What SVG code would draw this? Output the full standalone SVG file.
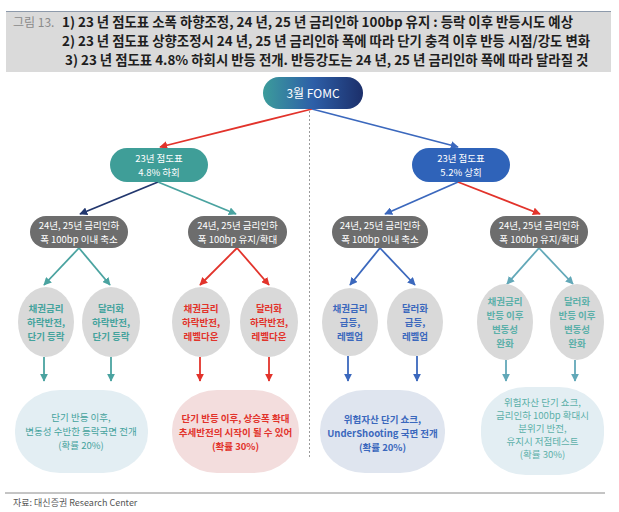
<svg xmlns="http://www.w3.org/2000/svg" width="619" height="512" viewBox="0 0 619 512">
<style>
text{font-family:"Noto Sans CJK KR","Noto Sans",sans-serif;}
.hd{font-size:13.4px;font-weight:bold;fill:#1e1e1e;}
.nw{font-size:9.5px;fill:#fff;text-anchor:middle;}
.et{font-size:9.5px;font-weight:bold;text-anchor:middle;}
.bt{font-size:9.5px;text-anchor:middle;}
.ln{fill:none;stroke-width:1.8;}
.r{stroke:#e2332b;} .b{stroke:#3b68bd;} .n{stroke:#22376e;} .t{stroke:#4aa3a0;} .lt{stroke:#62a8b8;}
</style>
<defs>
<linearGradient id="gTop" x1="0" y1="0" x2="1" y2="0">
<stop offset="0" stop-color="#3c9c9b"/>
<stop offset="0.5" stop-color="#2d5fa8"/>
<stop offset="1" stop-color="#1c2f6a"/>
</linearGradient>
<marker id="mr" viewBox="0 0 10 10" refX="9" refY="5" markerWidth="8" markerHeight="8" markerUnits="userSpaceOnUse" orient="auto"><path d="M0,0 L10,5 L0,10 z" fill="#e2332b"/></marker>
<marker id="mb" viewBox="0 0 10 10" refX="9" refY="5" markerWidth="8" markerHeight="8" markerUnits="userSpaceOnUse" orient="auto"><path d="M0,0 L10,5 L0,10 z" fill="#3b68bd"/></marker>
<marker id="mn" viewBox="0 0 10 10" refX="9" refY="5" markerWidth="8" markerHeight="8" markerUnits="userSpaceOnUse" orient="auto"><path d="M0,0 L10,5 L0,10 z" fill="#22376e"/></marker>
<marker id="mt" viewBox="0 0 10 10" refX="9" refY="5" markerWidth="8" markerHeight="8" markerUnits="userSpaceOnUse" orient="auto"><path d="M0,0 L10,5 L0,10 z" fill="#4aa3a0"/></marker>
<marker id="mlt" viewBox="0 0 10 10" refX="9" refY="5" markerWidth="8" markerHeight="8" markerUnits="userSpaceOnUse" orient="auto"><path d="M0,0 L10,5 L0,10 z" fill="#62a8b8"/></marker>
</defs>
<rect width="619" height="512" fill="#fff"/>
<g id="header">
<rect x="6" y="11" width="605" height="61" fill="#dadada"/>
<line x1="6" y1="11.5" x2="611" y2="11.5" stroke="#8d9aab" stroke-width="1"/>
<text x="13" y="27" font-size="12" fill="#8a8a8a">그림 13.</text>
<text class="hd" x="62" y="27">1) 23 년 점도표 소폭 하향조정, 24 년, 25 년 금리인하 100bp 유지 : 등락 이후 반등시도 예상</text>
<text class="hd" x="62" y="46">2) 23 년 점도표 상향조정시 24 년, 25 년 금리인하 폭에 따라 단기 충격 이후 반등 시점/강도 변화</text>
<text class="hd" x="65" y="65">3) 23 년 점도표 4.8% 하회시 반등 전개. 반등강도는 24 년, 25 년 금리인하 폭에 따라 달라질 것</text>
</g>
<line x1="309.5" y1="111" x2="309.5" y2="458" stroke="#9a9a9a" stroke-width="1" stroke-dasharray="2,2"/>
<g id="connectors">
<path class="ln r" d="M312,109 L160,147" marker-end="url(#mr)"/>
<path class="ln b" d="M312,109 L458,147" marker-end="url(#mb)"/>
<path class="ln n" d="M158,182 L80,214" marker-end="url(#mn)"/>
<path class="ln t" d="M158,182 L236,214" marker-end="url(#mt)"/>
<path class="ln b" d="M458,182 L385,214" marker-end="url(#mb)"/>
<path class="ln r" d="M458,182 L540,214" marker-end="url(#mr)"/>
<path class="ln t" d="M79,248 L44,285" marker-end="url(#mt)"/>
<path class="ln t" d="M79,248 L110,285" marker-end="url(#mt)"/>
<path class="ln r" d="M237,248 L200,285" marker-end="url(#mr)"/>
<path class="ln r" d="M237,248 L269,285" marker-end="url(#mr)"/>
<path class="ln b" d="M380,248 L350,285" marker-end="url(#mb)"/>
<path class="ln b" d="M380,248 L415,285" marker-end="url(#mb)"/>
<path class="ln lt" d="M539,248 L507,284" marker-end="url(#mlt)"/>
<path class="ln lt" d="M539,248 L573,284" marker-end="url(#mlt)"/>
<path class="ln t" d="M44,357 L44,381" marker-end="url(#mt)"/>
<path class="ln t" d="M111,357 L111,381" marker-end="url(#mt)"/>
<path class="ln r" d="M200,357 L200,381" marker-end="url(#mr)"/>
<path class="ln r" d="M269,357 L269,381" marker-end="url(#mr)"/>
<path class="ln b" d="M348,356 L348,381" marker-end="url(#mb)"/>
<path class="ln b" d="M417,356 L417,381" marker-end="url(#mb)"/>
<path class="ln lt" d="M506,360 L506,381" marker-end="url(#mlt)"/>
<path class="ln lt" d="M575,360 L575,381" marker-end="url(#mlt)"/>
</g>
<g id="n_fomc">
<rect x="263" y="77" width="100" height="32" rx="16" fill="url(#gTop)"/>
<text x="313" y="97.5" font-size="12" fill="#fff" text-anchor="middle">3월 FOMC</text>
</g>
<g id="n_below">
<rect x="110" y="148" width="98" height="34" rx="17" fill="#3f9e98"/>
<text class="nw" x="159" y="162">23년 점도표</text>
<text class="nw" x="159" y="176">4.8% 하회</text>
</g>
<g id="n_above">
<rect x="412" y="148" width="98" height="34" rx="17" fill="#2f63b9"/>
<text class="nw" x="461" y="162">23년 점도표</text>
<text class="nw" x="461" y="176">5.2% 상회</text>
</g>
<g id="n_ll">
<rect x="30" y="216" width="98" height="32" rx="16" fill="#6d6d6d"/>
<text class="nw" x="79" y="229">24년, 25년 금리인하</text>
<text class="nw" x="79" y="243">폭 100bp 이내 축소</text>
</g>
<g id="n_lr">
<rect x="188" y="216" width="99" height="32" rx="16" fill="#6d6d6d"/>
<text class="nw" x="237.5" y="229">24년, 25년 금리인하</text>
<text class="nw" x="237.5" y="243">폭 100bp 유지/확대</text>
</g>
<g id="n_rl">
<rect x="332" y="216" width="96" height="32" rx="16" fill="#6d6d6d"/>
<text class="nw" x="380" y="229">24년, 25년 금리인하</text>
<text class="nw" x="380" y="243">폭 100bp 이내 축소</text>
</g>
<g id="n_rr">
<rect x="490" y="216" width="98" height="32" rx="16" fill="#6d6d6d"/>
<text class="nw" x="539" y="229">24년, 25년 금리인하</text>
<text class="nw" x="539" y="243">폭 100bp 유지/확대</text>
</g>
<g id="e1">
<ellipse cx="46" cy="322" rx="28" ry="35" fill="#d9d9d9"/>
<text class="et" x="46" y="312" fill="#45a39d">채권금리</text>
<text class="et" x="46" y="326" fill="#45a39d">하락반전,</text>
<text class="et" x="46" y="340" fill="#45a39d">단기 등락</text>
</g>
<g id="e2">
<ellipse cx="111" cy="322" rx="29" ry="35" fill="#d9d9d9"/>
<text class="et" x="111" y="312" fill="#45a39d">달러화</text>
<text class="et" x="111" y="326" fill="#45a39d">하락반전,</text>
<text class="et" x="111" y="340" fill="#45a39d">단기 등락</text>
</g>
<g id="e3">
<ellipse cx="201" cy="322" rx="29" ry="35" fill="#d9d9d9"/>
<text class="et" x="201" y="312" fill="#e2332b">채권금리</text>
<text class="et" x="201" y="326" fill="#e2332b">하락반전,</text>
<text class="et" x="201" y="340" fill="#e2332b">레벨다운</text>
</g>
<g id="e4">
<ellipse cx="269" cy="322" rx="29" ry="35" fill="#d9d9d9"/>
<text class="et" x="269" y="312" fill="#e2332b">달러화</text>
<text class="et" x="269" y="326" fill="#e2332b">하락반전,</text>
<text class="et" x="269" y="340" fill="#e2332b">레벨다운</text>
</g>
<g id="e5">
<ellipse cx="350" cy="322" rx="28" ry="34" fill="#d9d9d9"/>
<text class="et" x="350" y="312" fill="#3b68bd">채권금리</text>
<text class="et" x="350" y="326" fill="#3b68bd">급등,</text>
<text class="et" x="350" y="340" fill="#3b68bd">레벨업</text>
</g>
<g id="e6">
<ellipse cx="415" cy="322" rx="28" ry="34" fill="#d9d9d9"/>
<text class="et" x="415" y="312" fill="#3b68bd">달러화</text>
<text class="et" x="415" y="326" fill="#3b68bd">급등,</text>
<text class="et" x="415" y="340" fill="#3b68bd">레벨업</text>
</g>
<g id="e7">
<ellipse cx="505" cy="322" rx="28" ry="38" fill="#d9d9d9"/>
<text class="et" x="505" y="305" fill="#5cb0a9">채권금리</text>
<text class="et" x="505" y="319" fill="#5cb0a9">반등 이후</text>
<text class="et" x="505" y="333" fill="#5cb0a9">변동성</text>
<text class="et" x="505" y="347" fill="#5cb0a9">완화</text>
</g>
<g id="e8">
<ellipse cx="577" cy="322" rx="27" ry="38" fill="#d9d9d9"/>
<text class="et" x="577" y="305" fill="#5cb0a9">달러화</text>
<text class="et" x="577" y="319" fill="#5cb0a9">반등 이후</text>
<text class="et" x="577" y="333" fill="#5cb0a9">변동성</text>
<text class="et" x="577" y="347" fill="#5cb0a9">완화</text>
</g>
<g id="b1">
<rect x="15" y="390" width="133" height="83" rx="45" ry="40" fill="#e3eef3"/>
<text class="bt" x="81" y="421" fill="#45a39d">단기 반등 이후,</text>
<text class="bt" x="81" y="435" fill="#45a39d">변동성 수반한 등락국면 전개</text>
<text class="bt" x="81" y="449" fill="#45a39d">(확률 20%)</text>
</g>
<g id="b2">
<rect x="172" y="390" width="127" height="83" rx="45" ry="40" fill="#f3dddd"/>
<text class="bt" x="235.5" y="422" fill="#e2332b" font-weight="bold">단기 반등 이후, 상승폭 확대</text>
<text class="bt" x="235.5" y="436" fill="#e2332b" font-weight="bold">추세반전의 시작이 될 수 있어</text>
<text class="bt" x="235.5" y="450" fill="#e2332b" font-weight="bold">(확률 30%)</text>
</g>
<g id="b3">
<rect x="320" y="390" width="125" height="83" rx="45" ry="40" fill="#dfe5ef"/>
<text class="bt" x="382.5" y="423" fill="#3b68bd" font-weight="bold">위험자산 단기 쇼크,</text>
<text class="bt" x="382.5" y="437" fill="#3b68bd" font-weight="bold">UnderShooting 국면 전개</text>
<text class="bt" x="382.5" y="451" fill="#3b68bd" font-weight="bold">(확률 20%)</text>
</g>
<g id="b4">
<rect x="481" y="387" width="123" height="88" rx="45" ry="40" fill="#e3eef3"/>
<text class="bt" x="542.5" y="406" fill="#5cb0a9">위험자산 단기 쇼크,</text>
<text class="bt" x="542.5" y="419" fill="#5cb0a9">금리인하 100bp 확대시</text>
<text class="bt" x="542.5" y="432" fill="#5cb0a9">분위기 반전,</text>
<text class="bt" x="542.5" y="445" fill="#5cb0a9">유지시 저점테스트</text>
<text class="bt" x="542.5" y="458" fill="#5cb0a9">(확률 30%)</text>
</g>
<g id="footer">
<line x1="5" y1="493" x2="605" y2="493" stroke="#8a8a8a" stroke-width="1"/>
<text x="13" y="506" font-size="9" fill="#555">자료: 대신증권 Research Center</text>
</g>
</svg>
